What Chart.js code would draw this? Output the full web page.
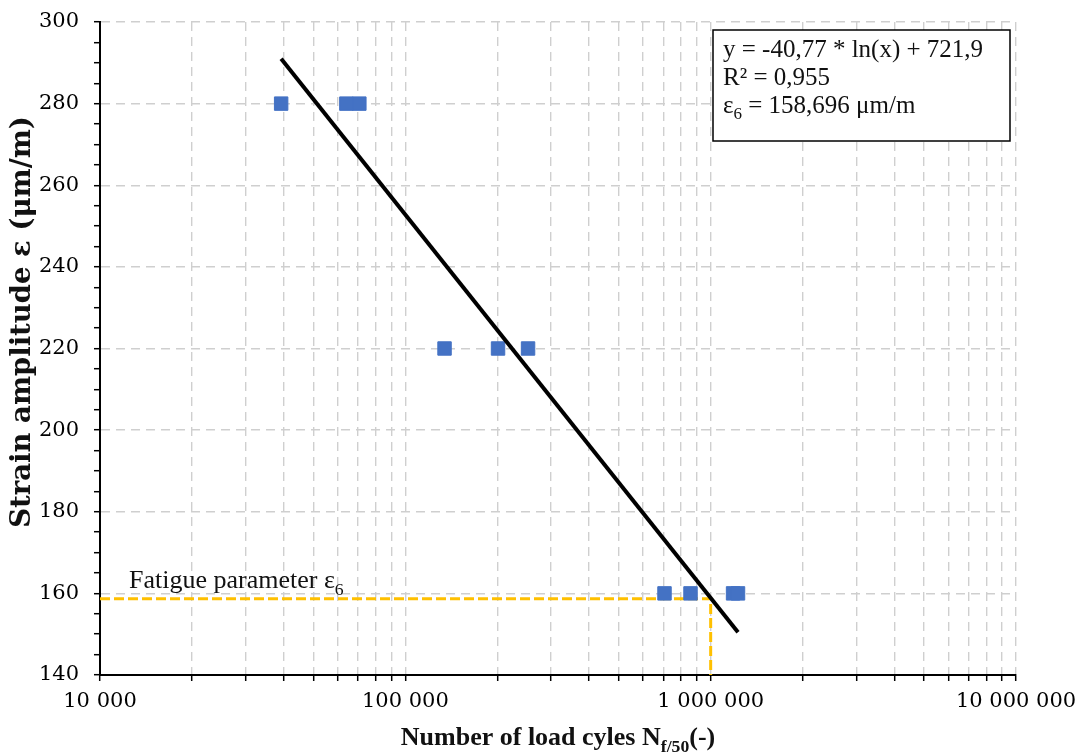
<!DOCTYPE html>
<html>
<head>
<meta charset="utf-8">
<script src="https://cdn.jsdelivr.net/npm/chart.js@4.4.0/dist/chart.umd.min.js"></script>
<style>
  html, body { margin: 0; padding: 0; background: #fff; }
  #c { display: block; }
</style>
</head>
<body>
<canvas id="c" width="1079" height="755"></canvas>
<script>
// measured fatigue tests (cycles to failure, strain amplitude)
const testCycles = [39200, 64100, 70700, 134400, 201200, 252300, 706000, 859000, 1184000, 1229000];
const testStrain = [280, 280, 280, 220, 220, 220, 160, 160, 160, 160];

// regression line end points
const trendCycles = [39200, 1229000];
const trendStrain = [291, 150.5];

// epsilon 6 guide (10^6 cycles)
const guideCycles = [10000, 1000000, 1000000];
const guideStrain = [158.696, 158.696, 140];

const xTickValues = [10000, 20000, 30000, 40000, 50000, 60000, 70000, 80000, 90000,
  100000, 200000, 300000, 400000, 500000, 600000, 700000, 800000, 900000,
  1000000, 2000000, 3000000, 4000000, 5000000, 6000000, 7000000, 8000000, 9000000,
  10000000];
const xLabelValues = [10000, 100000, 1000000, 10000000];
const xLabelTexts = ['10 000', '100 000', '1 000 000', '10 000 000'];
const yLabelValues = [140, 160, 180, 200, 220, 240, 260, 280, 300];

const eqLine1 = 'y = -40,77 * ln(x) + 721,9';
const eqLine2 = 'R² = 0,955';
const eqLine3 = ' = 158,696 μm/m';

const TICKFONT = "'DejaVu Serif', serif";
const TEXTFONT = "'Liberation Serif', serif";
const gridGrey = '#cfcfcf';

function toPoints(xs, ys) {
  return xs.map((x, i) => ({ x: x, y: ys[i] }));
}

// draws text pieces, some of them as subscripts
function rich(ctx, parts, x, y, size, weight, doDraw) {
  let cx = x;
  parts.forEach(p => {
    const s = p.sub ? size * 0.68 : size;
    ctx.font = weight + ' ' + s + 'px ' + TEXTFONT;
    if (doDraw) ctx.fillText(p.t, cx, y + (p.sub ? size * 0.25 : 0));
    cx += ctx.measureText(p.t).width;
  });
  return cx - x;
}

const textPlugin = {
  id: 'texts',
  afterDraw(chart) {
    const ctx = chart.ctx;
    ctx.save();
    ctx.textAlign = 'left';
    ctx.textBaseline = 'alphabetic';

    // equation box
    ctx.fillStyle = '#fff';
    ctx.fillRect(713, 30, 297, 111);
    ctx.strokeStyle = '#000';
    ctx.lineWidth = 1.5;
    ctx.strokeRect(713, 30, 297, 111);
    ctx.fillStyle = '#111';
    rich(ctx, [{ t: eqLine1 }], 723, 57, 25, 'normal', true);
    rich(ctx, [{ t: eqLine2 }], 723, 85, 25, 'normal', true);
    rich(ctx, [{ t: 'ε' }, { t: '6', sub: true }, { t: eqLine3 }], 723, 113, 25, 'normal', true);

    // guide label
    rich(ctx, [{ t: 'Fatigue parameter ε' }, { t: '6', sub: true }], 129, 588, 26, 'normal', true);

    // x title
    const xParts = [{ t: 'Number of load cyles N' }, { t: 'f/50', sub: true }, { t: '(-)' }];
    const w = rich(ctx, xParts, 0, 0, 26, 'bold', false);
    const a = chart.chartArea;
    rich(ctx, xParts, (a.left + a.right) / 2 - w / 2, 745, 26, 'bold', true);

    // y title
    ctx.translate(23, 322);
    ctx.rotate(-Math.PI / 2);
    ctx.textAlign = 'center';
    ctx.textBaseline = 'middle';
    ctx.font = 'bold 27.5px ' + TICKFONT;
    ctx.fillText('Strain amplitude ε (μm/m)', 0, 0);
    ctx.restore();
  }
};

new Chart(document.getElementById('c'), {
  type: 'scatter',
  data: {
    datasets: [
      {
        label: 'trend',
        data: toPoints(trendCycles, trendStrain),
        showLine: true,
        borderColor: '#000',
        borderWidth: 4,
        pointRadius: 0,
        order: 0
      },
      {
        label: 'tests',
        data: toPoints(testCycles, testStrain),
        pointStyle: 'rect',
        pointRadius: 9.5,
        pointBackgroundColor: '#4472C4',
        pointBorderColor: '#4472C4',
        pointBorderWidth: 1,
        order: 1
      },
      {
        label: 'guide',
        data: toPoints(guideCycles, guideStrain),
        showLine: true,
        borderColor: '#FFC000',
        borderWidth: 3,
        borderDash: [10, 4],
        pointRadius: 0,
        order: 2
      }
    ]
  },
  options: {
    responsive: false,
    animation: false,
    layout: { padding: { top: 22, right: 63, bottom: 0, left: 0 } },
    plugins: { legend: { display: false }, tooltip: { enabled: false } },
    scales: {
      x: {
        type: 'logarithmic',
        min: 10000,
        max: 10000000,
        afterBuildTicks: scale => { scale.ticks = xTickValues.map(v => ({ value: v })); },
        afterFit: scale => {
          scale.height = 80;
          scale.paddingLeft = 0;
          scale.paddingRight = 0;
        },
        ticks: {
          autoSkip: false,
          maxRotation: 0,
          padding: 8,
          color: '#000',
          font: { family: TICKFONT, size: 21 },
          callback: v => {
            const i = xLabelValues.indexOf(v);
            return i >= 0 ? xLabelTexts[i] : '';
          }
        },
        grid: {
          color: gridGrey,
          lineWidth: 1.4,
          tickColor: '#000',
          tickLength: 6,
          tickWidth: 1.5
        },
        border: { color: '#000', width: 2, dash: [9, 6] }
      },
      y: {
        min: 140,
        max: 300,
        afterFit: scale => {
          scale.width = 100;
          scale.paddingTop = 0;
          scale.paddingBottom = 0;
        },
        ticks: {
          stepSize: 5,
          autoSkip: false,
          padding: 15,
          color: '#000',
          font: { family: TICKFONT, size: 21 },
          callback: v => yLabelValues.includes(v) ? String(v) : ''
        },
        grid: {
          color: c => yLabelValues.includes(c.tick.value) ? gridGrey : 'rgba(0,0,0,0)',
          lineWidth: 1.4,
          tickColor: '#000',
          tickLength: 6,
          tickWidth: 1.5
        },
        border: { color: '#000', width: 2, dash: [9, 6] }
      }
    }
  },
  plugins: [textPlugin]
});
</script>
</body>
</html>
